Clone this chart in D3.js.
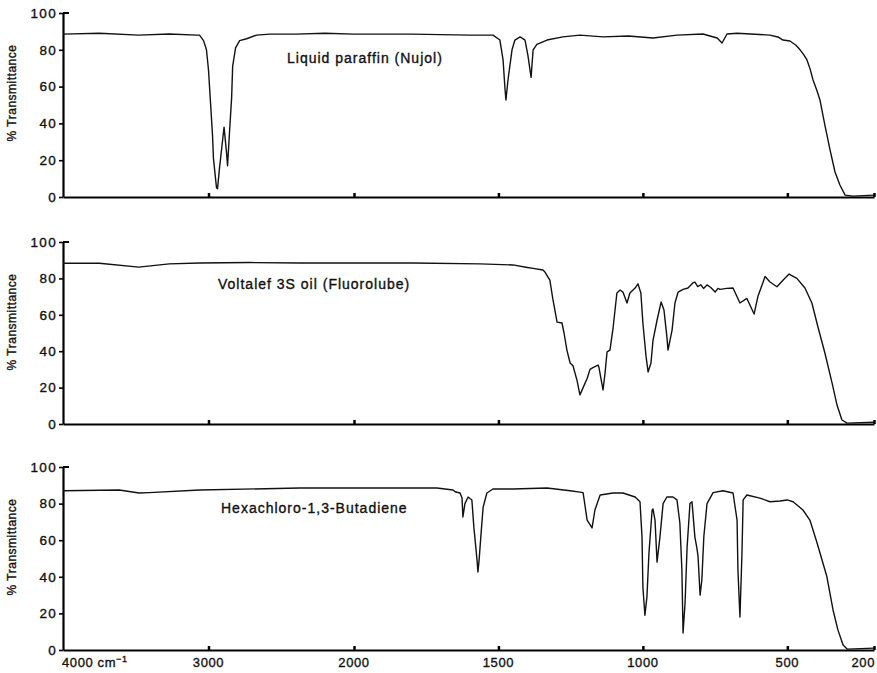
<!DOCTYPE html>
<meta charset="utf-8">
<head>
  <meta charset="utf-8">
  <script src="https://d3js.org/d3.v7.min.js"></script>
  <style>
    body { margin: 0; background: #fff; }
    svg { display: block; font-family: "Liberation Sans", Arial, sans-serif; }
    .lbl { fill: #111; stroke: #111; stroke-width: 0.35px; }
  </style>
</head>
<body>
<svg width="877" height="673"></svg>
<script>
// tick values
var xTicks = [4000, 3000, 2000, 1500, 1000, 500, 200];
var yTicks = [0, 20, 40, 60, 80, 100];

// sample names
var names = ["Liquid paraffin (Nujol)", "Voltalef 3S oil (Fluorolube)", "Hexachloro-1,3-Butadiene"];

// Nujol spectrum (wavenumber cm-1, % transmittance)
var nujolWn = [4000, 3750, 3480, 3270, 3080, 3062, 3034, 3014, 3000, 2986, 2972, 2966, 2945, 2938, 2924, 2903, 2893, 2876, 2869, 2855, 2841, 2834, 2814, 2786, 2738, 2669, 2580, 2400, 2200, 2000, 1800, 1600, 1519, 1495, 1484, 1477, 1474, 1467, 1453, 1443, 1425, 1408, 1398, 1387, 1380, 1367, 1332, 1277, 1218, 1138, 1050, 965, 882, 792, 743, 726, 709, 674, 560, 530, 515, 491, 470, 456, 444, 432, 421, 411, 398, 387, 370, 352, 335, 318, 300, 273, 200];
var nujolT  = [88.5, 89, 88, 88.6, 88, 88, 85, 80, 69, 51, 33, 21, 5, 4.5, 16, 31, 38, 24, 17, 36, 54, 71, 81, 85, 86, 88, 88.5, 88.5, 89, 88.5, 88.5, 88, 88, 85.3, 74.5, 58, 52.7, 63.6, 80, 85.3, 87, 85.3, 77, 65, 80, 83, 85.3, 87, 88, 87, 87.5, 86.4, 88, 88.6, 86.4, 83.7, 88.6, 89, 88, 86.8, 85.3, 84.8, 82.5, 80, 77.5, 74.5, 69.5, 63.6, 58, 52.7, 39, 25.5, 13.6, 6.5, 1, 0.5, 1];

// Fluorolube spectrum
var fluoroWn = [4000, 3750, 3480, 3270, 3060, 2720, 2370, 2000, 1796, 1564, 1450, 1400, 1380, 1346, 1339, 1322, 1311, 1297, 1280, 1273, 1263, 1252, 1242, 1228, 1218, 1207, 1193, 1183, 1173, 1155, 1152, 1138, 1131, 1124, 1114, 1103, 1090, 1079, 1069, 1055, 1045, 1027, 1017, 1007, 1000, 989, 982, 972, 965, 951, 937, 927, 917, 913, 899, 889, 878, 861, 844, 827, 820, 810, 800, 790, 778, 765, 750, 740, 733, 710, 688, 664, 640, 615, 602, 577, 560, 536, 515, 494, 467, 439, 415, 394, 370, 345, 328, 311, 293, 200];
var fluoroT  = [88.3, 88.3, 86.2, 88, 88.5, 88.7, 88.5, 88.5, 88.5, 88, 87.4, 86, 85.5, 84.6, 83.5, 79, 68, 56, 55.5, 50, 40.6, 33.5, 32, 24, 16, 20, 25, 30, 31, 32.4, 31, 18.7, 28, 39.6, 40.6, 53, 72, 73.6, 72.5, 66.5, 72, 74.7, 77, 72, 55.5, 37, 28.6, 33.5, 46, 57, 67, 62.6, 48, 40.6, 51.6, 66.5, 72.5, 74, 74.7, 77.5, 78, 75.5, 76.5, 74.5, 76.4, 75, 72.5, 74.5, 74, 74.5, 74.7, 66.5, 69, 60.4, 70, 81, 78, 75.4, 79, 82.4, 80, 74.7, 66.5, 53.3, 39, 22.5, 10.4, 2.2, 0.5, 1];

// Hexachloro-1,3-butadiene spectrum
var hcbWn = [4000, 3614, 3476, 3407, 3062, 2372, 2000, 1713, 1657, 1650, 1633, 1626, 1623, 1616, 1605, 1592, 1585, 1574, 1571, 1567, 1560, 1553, 1540, 1519, 1450, 1332, 1252, 1218, 1207, 1193, 1176, 1166, 1148, 1103, 1069, 1027, 1010, 1003, 1000, 993, 986, 979, 968, 965, 958, 951, 941, 930, 917, 896, 882, 872, 865, 861, 854, 847, 837, 830, 820, 813, 809, 802, 796, 789, 778, 757, 723, 688, 674, 671, 664, 657, 653, 640, 595, 560, 525, 501, 480, 446, 422, 397, 363, 342, 325, 307, 293, 200];
var hcbT  = [87, 87.4, 85.8, 86, 87.4, 88.5, 88.5, 88.5, 87.4, 86.5, 85.8, 83, 72.7, 80, 83.6, 82, 67, 49, 42.6, 49, 64, 78, 85.8, 88, 88, 88.5, 87, 86.3, 86, 71, 66.7, 76.5, 84.7, 85.8, 85.8, 83.6, 81, 61.7, 34.4, 19, 29, 53, 76.5, 77, 71, 48, 61.7, 80, 83.6, 83.6, 82, 69.4, 43.7, 9.3, 25.7, 56, 80, 81, 61.7, 55.7, 51, 30, 38, 62, 80, 86, 87, 85.8, 71, 43.7, 18, 53, 82, 84.7, 83, 81, 81.4, 82, 81, 76.5, 71, 58.5, 40, 22, 11, 2.7, 0.5, 1];

var spectra = [
  {wn: nujolWn, t: nujolT},
  {wn: fluoroWn, t: fluoroT},
  {wn: hcbWn, t: hcbT}
];

var svg = d3.select("svg");

// wavenumber axis: 4000-2000 compressed, 2000-200 expanded
var x = d3.scaleLinear().domain([4000, 2000, 200]).range([63, 354, 874]);

// panel geometry: [top of 100%, bottom at 0%], title offset
var panels = [
  {top: 13, bottom: 197, tx: 287, ty: 50},
  {top: 242, bottom: 424, tx: 218, ty: 47},
  {top: 467, bottom: 650, tx: 221, ty: 46}
];

panels.forEach(function(p, i) {
  var y = d3.scaleLinear().domain([0, 100]).range([p.bottom, p.top]);
  var g = svg.append("g");

  // left axis
  var ya = g.append("g")
    .attr("transform", "translate(" + x(4000) + ",0)")
    .call(d3.axisLeft(y).tickValues(yTicks).tickSize(4).tickSizeOuter(0).tickPadding(2));
  ya.select(".domain").attr("stroke", "#000").attr("stroke-width", 2.2);
  ya.selectAll(".tick line").attr("stroke", "#000").attr("stroke-width", 1.6);
  ya.selectAll(".tick text")
    .attr("class", "lbl")
    .style("font-size", "13.5px")
    .style("letter-spacing", "1.3px");
  // small hook at 100%
  g.append("line")
    .attr("x1", x(4000)).attr("x2", x(4000) + 6)
    .attr("y1", y(100)).attr("y2", y(100))
    .attr("stroke", "#000").attr("stroke-width", 2);

  // bottom axis with ticks pointing up
  var xa = g.append("g")
    .attr("transform", "translate(0," + y(0) + ")")
    .call(d3.axisBottom(x).tickValues(xTicks.slice(1)).tickSize(-4).tickSizeOuter(0).tickFormat(""));
  xa.select(".domain").attr("stroke", "#000").attr("stroke-width", 2.2);
  xa.selectAll(".tick line").attr("stroke", "#000").attr("stroke-width", 2.5);

  if (i == 2) {
    var lab = g.selectAll(".xlab")
      .data(xTicks)
      .enter()
      .append("text")
        .attr("class", "lbl")
        .attr("x", function(d) { return d == 4000 ? x(d) - 1 : (d == 200 ? x(d) + 1 : x(d)); })
        .attr("y", y(0) + 17)
        .attr("text-anchor", function(d) { return d == 4000 ? "start" : (d == 200 ? "end" : "middle"); })
        .style("font-size", "13px")
        .style("letter-spacing", "0.6px")
        .text(function(d) { return d; });
    lab.filter(function(d) { return d == 4000; })
      .append("tspan").text(" cm");
    lab.filter(function(d) { return d == 4000; })
      .append("tspan")
        .attr("dy", "-5")
        .style("font-size", "9px")
        .text("\u22121");
  }

  // y label
  g.append("text")
    .attr("class", "lbl")
    .attr("transform", "translate(16," + (p.top + 80) + ") rotate(-90)")
    .attr("text-anchor", "middle")
    .style("font-size", "12px")
    .style("letter-spacing", "0.5px")
    .text("% Transmittance");

  // sample name
  g.append("text")
    .attr("class", "lbl")
    .attr("x", p.tx)
    .attr("y", p.top + p.ty)
    .style("font-size", "14px")
    .style("letter-spacing", "1px")
    .text(names[i]);

  // spectrum trace
  var s = spectra[i];
  var pts = s.wn.map(function(w, k) { return [w, s.t[k]]; });
  g.append("path")
    .datum(pts)
    .attr("d", d3.line()
      .x(function(d) { return x(d[0]); })
      .y(function(d) { return y(d[1]); }))
    .attr("fill", "none")
    .attr("stroke", "#111")
    .attr("stroke-width", 1.4)
    .attr("stroke-linejoin", "round");
});
</script>
</body>
</html>
